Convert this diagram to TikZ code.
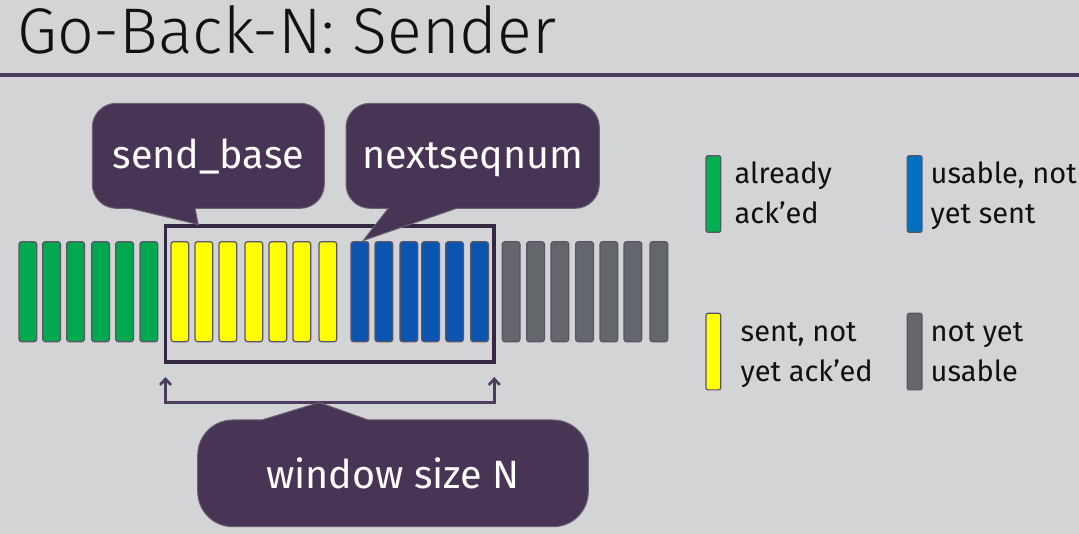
\documentclass[tikz,border=0pt]{standalone}
\usepackage{fontspec}
\setmainfont{Fira Sans}
\newfontfamily\titlefont{Fira Sans Light}
\usetikzlibrary{arrows.meta}
\definecolor{bg}{RGB}{211,212,214}
\definecolor{plum}{RGB}{72,52,84}
\definecolor{plumedge}{RGB}{108,98,116}
\definecolor{framecol}{RGB}{54,40,66}
\definecolor{rulecol}{RGB}{76,60,94}
\definecolor{gbar}{RGB}{0,168,80}
\definecolor{ybar}{RGB}{255,255,0}
\definecolor{bbar}{RGB}{11,85,176}
\definecolor{kbar}{RGB}{99,103,107}
\definecolor{barline}{RGB}{92,84,100}
\definecolor{lblue}{RGB}{0,112,192}
\definecolor{lgreen}{RGB}{0,176,80}
\definecolor{txt}{RGB}{17,17,17}
\tikzset{
  bar/.style={draw=barline, line width=1.2pt, rounded corners=2.5pt,
    minimum width=17.7pt, minimum height=100pt, inner sep=0pt, outer sep=0pt,
    anchor=north west},
  legbar/.style={draw=barline, line width=1.2pt, rounded corners=2pt,
    minimum width=14.7pt, minimum height=76.6pt, inner sep=0pt, outer sep=0pt,
    anchor=north west},
  bubble/.style={fill=plum, draw=plumedge, line width=1pt},
  bubtext/.style={text=white, anchor=base, inner sep=0pt,
    font=\fontsize{39.5}{47}\selectfont},
  legtext/.style={text=txt, anchor=base west, inner sep=0pt,
    font=\fontsize{29}{35}\selectfont},
  bracket/.style={draw=rulecol, line width=2.6pt,
    {Straight Barb[length=6pt,width=11pt]}-{Straight Barb[length=6pt,width=11pt]}},
}
\begin{document}
\begin{tikzpicture}[x=1pt,y=-1pt]
\fill[bg] (0,0) rectangle (1079,534);
\useasboundingbox (0,0) rectangle (1079,534);
% title
\node[anchor=base west, inner sep=0pt, text=txt,
  font=\titlefont\fontsize{64.5}{76}\selectfont] (title) at (17,54) {Go-Back-N: Sender};
\draw[rulecol, line width=4.5pt] (0,75) -- (1079,75);
% bars
\foreach \x [count=\i] in {19,42.7,66.7,91.7,115.7,140}
  \node[bar, fill=gbar] (g\i) at (\x,241.7) {};
\foreach \x [count=\i] in {171,195,219,245,269,293,319}
  \node[bar, fill=ybar] (y\i) at (\x,241.7) {};
\foreach \x [count=\i] in {351,375,400,421.7,445.7,470.7}
  \node[bar, fill=bbar] (b\i) at (\x,241.7) {};
\foreach \x [count=\i] in {502.3,526.7,551,575.7,600,624,650}
  \node[bar, fill=kbar] (k\i) at (\x,241.7) {};
% window frame
\node[draw=framecol, line width=3.8pt, minimum width=328.8pt, minimum height=136pt,
  inner sep=0pt, outer sep=0pt, anchor=north west] (win) at (165.5,226) {};
% bracket
\coordinate (blt) at (165.5,377);
\coordinate (bl) at (165.5,402.5);
\coordinate (br) at (494.3,402.5);
\coordinate (brt) at (494.3,377);
\draw[bracket] (blt) -- (bl) -- (br) -- (brt);
% send_base bubble
\path[bubble] (116.3,103.3) -- (300.3,103.3) arc[start angle=-90,end angle=0,radius=24]
  -- (324.3,184.3) arc[start angle=0,end angle=90,radius=24]
  -- (195,208.3) -- (198.3,224.5) -- (130,208.3)
  -- (116.3,208.3) arc[start angle=90,end angle=180,radius=24]
  -- (92.3,127.3) arc[start angle=180,end angle=270,radius=24] -- cycle;
\node[bubtext] (sb) at (208.3,169) {send\_base};
% nextseqnum bubble
\path[bubble] (370,103.3) -- (575.3,103.3) arc[start angle=-90,end angle=0,radius=24]
  -- (599.3,184.3) arc[start angle=0,end angle=90,radius=24]
  -- (456.7,208.3) -- (363.3,240.5) -- (388.3,208.3)
  -- (370,208.3) arc[start angle=90,end angle=180,radius=24]
  -- (346,127.3) arc[start angle=180,end angle=270,radius=24] -- cycle;
\node[bubtext] (ns) at (472.7,169) {nextseqnum};
% window size bubble
\path[bubble] (232.7,420) -- (261.7,420) -- (319.3,402.5) -- (368.3,420)
  -- (553.3,420) arc[start angle=-90,end angle=0,radius=35]
  -- (588.3,491.7) arc[start angle=0,end angle=90,radius=35]
  -- (232.7,526.7) arc[start angle=90,end angle=180,radius=35]
  -- (197.7,455) arc[start angle=180,end angle=270,radius=35] -- cycle;
\node[bubtext] (ws) at (393,488.3) {window size N};
% legend
\node[legbar, fill=lgreen] (lg) at (706,155.7) {};
\node[legbar, fill=lblue] (lb) at (907.3,155.7) {};
\node[legbar, fill=ybar] (ly) at (706,313.3) {};
\node[legbar, fill=kbar] (lk) at (907.3,313.3) {};
\node[legtext] (t1) at (734.5,183.3) {already};
\node[legtext] (t2) at (734.5,223.3) {ack’ed};
\node[legtext] (t3) at (930.5,183.3) {usable, not};
\node[legtext] (t4) at (930.5,223.3) {yet sent};
\node[legtext] (t5) at (740.5,341.7) {sent, not};
\node[legtext] (t6) at (740.5,381.7) {yet ack’ed};
\node[legtext] (t7) at (930.5,341.7) {not yet};
\node[legtext] (t8) at (930.5,381.7) {usable};
\end{tikzpicture}
\end{document}
